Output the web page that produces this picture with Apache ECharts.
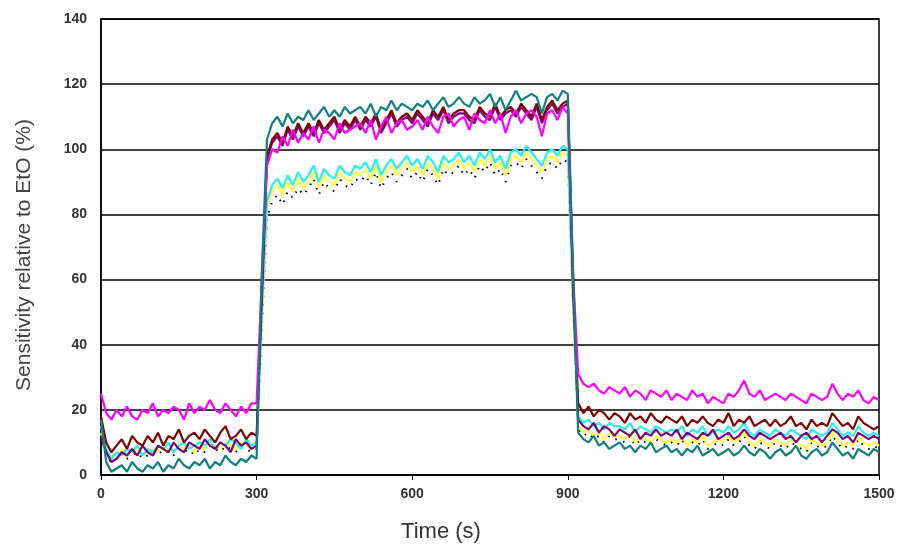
<!DOCTYPE html>
<html>
<head>
<meta charset="utf-8">
<script src="https://cdn.jsdelivr.net/npm/echarts@6/dist/echarts.min.js"></script>
<style>
  html, body { margin: 0; padding: 0; background: #fff; }
  #chart { width: 899px; height: 551px; }
</style>
</head>
<body>
<div id="chart"></div>
<script>
// sampling grid, one reading every 10 s
var times = [];
for (var i = 0; i <= 150; i++) times.push(i * 10);

var xTicks = [0, 300, 600, 900, 1200, 1500];
var yTicks = [0, 20, 40, 60, 80, 100, 120, 140];

var magenta = [
  25, 19, 17, 20, 18, 21, 18, 17, 20, 19,
  22, 18, 20, 19, 21, 20, 17, 22, 19, 21,
  20, 23, 20, 19, 22, 20, 18, 21, 19, 22,
  22, 60, 95, 100, 99, 104, 101, 106, 102, 105,
  103, 107, 102, 106, 105, 103, 108, 105, 106, 107,
  108, 105, 109, 103, 107, 110, 105, 108, 109, 106,
  107, 109, 106, 110, 107, 105, 110, 111, 107, 109,
  110, 106, 111, 109, 108, 112, 108, 111, 105, 110,
  112, 108, 111, 112, 110, 104, 111, 112, 109, 113,
  111, 62, 31, 28, 27, 28, 26, 25, 27, 26,
  25, 27, 24, 26, 25, 23, 26, 25, 24, 26,
  23, 25, 24, 23, 26, 24, 25, 22, 24, 23,
  22, 25, 24, 26, 29, 25, 24, 26, 23, 24,
  25, 24, 23, 25, 24, 23, 22, 25, 24, 23,
  24, 28, 25, 23, 25, 24, 26, 23, 22, 24,
  23
];
var maroon = [
  18, 10, 7, 9, 11, 8, 12, 10, 9, 12,
  10, 13, 9, 12, 11, 14, 10, 12, 13, 11,
  14, 12, 10, 13, 15, 11, 12, 14, 11, 13,
  12, 57, 98, 103, 105, 102, 107, 104, 108, 105,
  108, 105, 109, 106, 108, 110, 106, 109, 107, 110,
  107, 110, 108, 111, 106, 109, 112, 108, 110, 111,
  109, 112, 110, 108, 112, 110, 113, 109, 111, 112,
  112, 110, 109, 113, 111, 110, 114, 110, 112, 113,
  111, 114, 112, 110, 114, 109, 113, 115, 112, 114,
  115, 60, 22, 19, 21, 18, 20, 19, 17, 19,
  18, 16, 19, 17, 18, 16, 19, 17, 16, 18,
  17, 16, 18, 15, 17, 16, 18, 16, 15, 17,
  16, 19, 15, 17, 16, 18, 15, 16, 17, 15,
  17, 15, 16, 18, 15, 16, 14, 17, 15, 16,
  15, 19, 17, 15, 16, 14, 18, 16, 15, 14,
  15
];
var purple = [
  12, 7, 4, 5, 7, 6, 8, 6, 9, 7,
  6, 9, 8, 7, 10, 8, 7, 10, 9, 8,
  11, 9, 8, 10, 9, 7, 11, 9, 10, 8,
  9, 54, 97, 102, 104, 101, 106, 103, 107, 104,
  107, 104, 108, 105, 107, 109, 105, 108, 106, 109,
  106, 109, 107, 110, 105, 108, 111, 107, 109, 110,
  108, 111, 109, 107, 111, 109, 112, 108, 110, 111,
  111, 109, 108, 112, 110, 109, 113, 109, 111, 112,
  110, 113, 111, 109, 113, 108, 112, 114, 111, 113,
  114, 58, 17, 15, 14, 16, 13, 15, 14, 12,
  14, 13, 12, 14, 11, 13, 12, 14, 12, 13,
  12, 14, 11, 13, 12, 11, 13, 12, 14, 11,
  12, 13, 11, 12, 14, 12, 11, 13, 12, 11,
  12, 13, 11, 12, 10, 12, 13, 11, 12, 10,
  12, 14, 13, 11, 12, 10, 13, 12, 11, 12,
  11
];
var teal = [
  17, 4, 1, 2, 3, 1, 4, 2, 1, 3,
  2, 4, 1, 3, 2, 5, 3, 2, 4, 3,
  5, 2, 4, 3, 6, 4, 3, 5, 4, 6,
  5, 62, 103, 108, 110, 107, 111, 108, 110, 109,
  112, 109, 111, 113, 110, 112, 110, 113, 111, 112,
  113, 111, 114, 110, 113, 112, 115, 112, 114, 113,
  112, 114, 113, 115, 112, 114, 116, 113, 114, 116,
  114, 113, 116, 114, 115, 117, 113, 116, 112, 115,
  118, 115, 116, 117, 116, 111, 116, 117, 115, 118,
  117, 64, 13, 11, 10, 12, 9, 10, 8, 9,
  10, 8, 9, 7, 9, 8, 10, 7, 8, 9,
  7, 8, 6, 8, 7, 9, 6, 7, 8, 6,
  7, 8, 6, 7, 9, 7, 6, 8, 7, 5,
  7, 8, 6, 7, 9, 6, 5, 7, 8, 6,
  7, 10, 8, 6, 7, 5, 8, 7, 6, 8,
  7
];
var cyan = [
  15, 8, 5, 7, 6, 8, 7, 9, 6, 8,
  7, 9, 8, 10, 7, 9, 10, 8, 9, 10,
  9, 11, 8, 10, 9, 11, 10, 8, 11, 9,
  10, 50, 84, 89, 91, 88, 92, 89, 93, 90,
  92, 95, 90, 94, 92, 91, 95, 93, 92, 95,
  94, 96, 93, 97, 92, 95, 97, 94, 96, 98,
  95, 97, 94, 98, 96, 93, 98, 96, 97, 99,
  96, 98, 95, 99, 97, 100, 96, 98, 94, 99,
  100, 98, 101, 99, 97, 95, 99, 100, 98, 101,
  100, 55, 18, 16, 17, 15, 16, 14, 16, 15,
  15, 14, 16, 13, 15, 14, 13, 15, 14, 13,
  14, 13, 15, 12, 14, 13, 15, 12, 13, 14,
  13, 15, 13, 14, 16, 13, 12, 14, 13, 12,
  14, 13, 12, 14, 13, 12, 11, 14, 13, 12,
  13, 16, 14, 12, 13, 12, 15, 13, 12, 13,
  12
];
var yellow = [
  13, 7, 5, 6, 8, 6, 7, 8, 6, 7,
  8, 7, 9, 8, 7, 9, 8, 9, 7, 9,
  8, 10, 9, 8, 10, 9, 8, 10, 9, 8,
  9, 48, 82, 87, 89, 86, 90, 87, 91, 88,
  90, 93, 88, 92, 90, 89, 93, 91, 90, 93,
  92, 94, 91, 95, 90, 93, 95, 92, 94, 96,
  93, 95, 92, 96, 94, 91, 96, 94, 95, 97,
  94, 96, 93, 97, 95, 98, 94, 96, 92, 97,
  98, 96, 99, 97, 95, 93, 97, 98, 96, 99,
  98, 53, 15, 13, 14, 12, 13, 11, 13, 12,
  12, 11, 13, 10, 12, 11, 10, 12, 11, 10,
  11, 10, 12, 9, 11, 10, 12, 9, 10, 11,
  10, 12, 10, 11, 13, 10, 9, 11, 10, 9,
  11, 10, 9, 11, 10, 9, 8, 11, 10, 9,
  10, 13, 11, 9, 10, 9, 12, 10, 9, 10,
  9
];
var black = [
  12, 6, 4, 5, 7, 5, 6, 7, 5, 6,
  7, 6, 8, 7, 6, 8, 7, 8, 6, 8,
  7, 9, 8, 7, 9, 8, 7, 9, 8, 7,
  8, 45, 79, 84, 86, 83, 87, 85, 88, 86,
  88, 91, 86, 90, 88, 87, 91, 89, 88, 91,
  90, 92, 89, 93, 88, 91, 93, 90, 92, 94,
  91, 93, 90, 94, 92, 89, 94, 92, 93, 95,
  92, 94, 91, 95, 93, 96, 92, 94, 90, 95,
  96, 94, 97, 95, 93, 91, 95, 96, 94, 97,
  96, 52, 14, 12, 13, 11, 12, 10, 12, 11,
  11, 10, 12, 9, 11, 10, 9, 11, 10, 9,
  10, 9, 11, 8, 10, 9, 11, 8, 9, 10,
  9, 11, 9, 10, 12, 9, 8, 10, 9, 8,
  10, 9, 8, 10, 9, 8, 7, 10, 9, 8,
  9, 12, 10, 8, 9, 8, 11, 9, 8, 9,
  8
];

function pairs(vals) {
  return vals.map(function (v, i) { return [times[i], v]; });
}

function line(name, vals, color, type) {
  return {
    name: name,
    type: 'line',
    data: pairs(vals),
    showSymbol: false,
    silent: true,
    lineStyle: { color: color, width: type ? 2 : 2.2, type: type || 'solid' }
  };
}

var chart = echarts.init(document.getElementById('chart'));
var option = {
  animation: false,
  grid: {
    left: 101, right: 20, top: 19, bottom: 76,
    show: true, borderColor: '#000', borderWidth: 1.5
  },
  xAxis: {
    type: 'value',
    min: 0, max: 1500, interval: 300,
    name: 'Time (s)',
    nameLocation: 'middle',
    nameGap: 46,
    nameTextStyle: { fontFamily: 'Liberation Sans, Arial', fontSize: 22, color: '#333', padding: [0, 98, 0, 0] },
    axisLine: { lineStyle: { color: '#000', width: 1.5 } },
    axisTick: { show: true, inside: false, length: 5, lineStyle: { color: '#000' } },
    axisLabel: {
      fontFamily: 'Liberation Sans, Arial', fontWeight: 'bold', fontSize: 14, color: '#333', margin: 12,
      customValues: xTicks,
      formatter: function (v) { return String(v); }
    },
    splitLine: { show: false }
  },
  yAxis: {
    type: 'value',
    min: 0, max: 140, interval: 20,
    name: 'Sensitivity relative to EtO (%)',
    nameLocation: 'middle',
    nameGap: 66,
    nameTextStyle: { fontFamily: 'Liberation Sans, Arial', fontSize: 21, color: '#444', padding: [0, 16, 0, 0] },
    axisLine: { show: true, lineStyle: { color: '#000', width: 1.5 } },
    axisTick: { show: false },
    axisLabel: {
      fontFamily: 'Liberation Sans, Arial', fontWeight: 'bold', fontSize: 14, color: '#333', margin: 14,
      customValues: yTicks
    },
    splitLine: { show: true, lineStyle: { color: '#000', width: 1.5 } }
  },
  series: [
    line('black', black, '#000', [1.5, 7]),
    line('yellow', yellow, '#FFFF44'),
    line('cyan', cyan, '#22F2F2'),
    line('purple', purple, '#800080'),
    line('maroon', maroon, '#800000'),
    line('magenta', magenta, '#FF00FF'),
    line('teal', teal, '#108080')
  ]
};
chart.setOption(option);
</script>
</body>
</html>
